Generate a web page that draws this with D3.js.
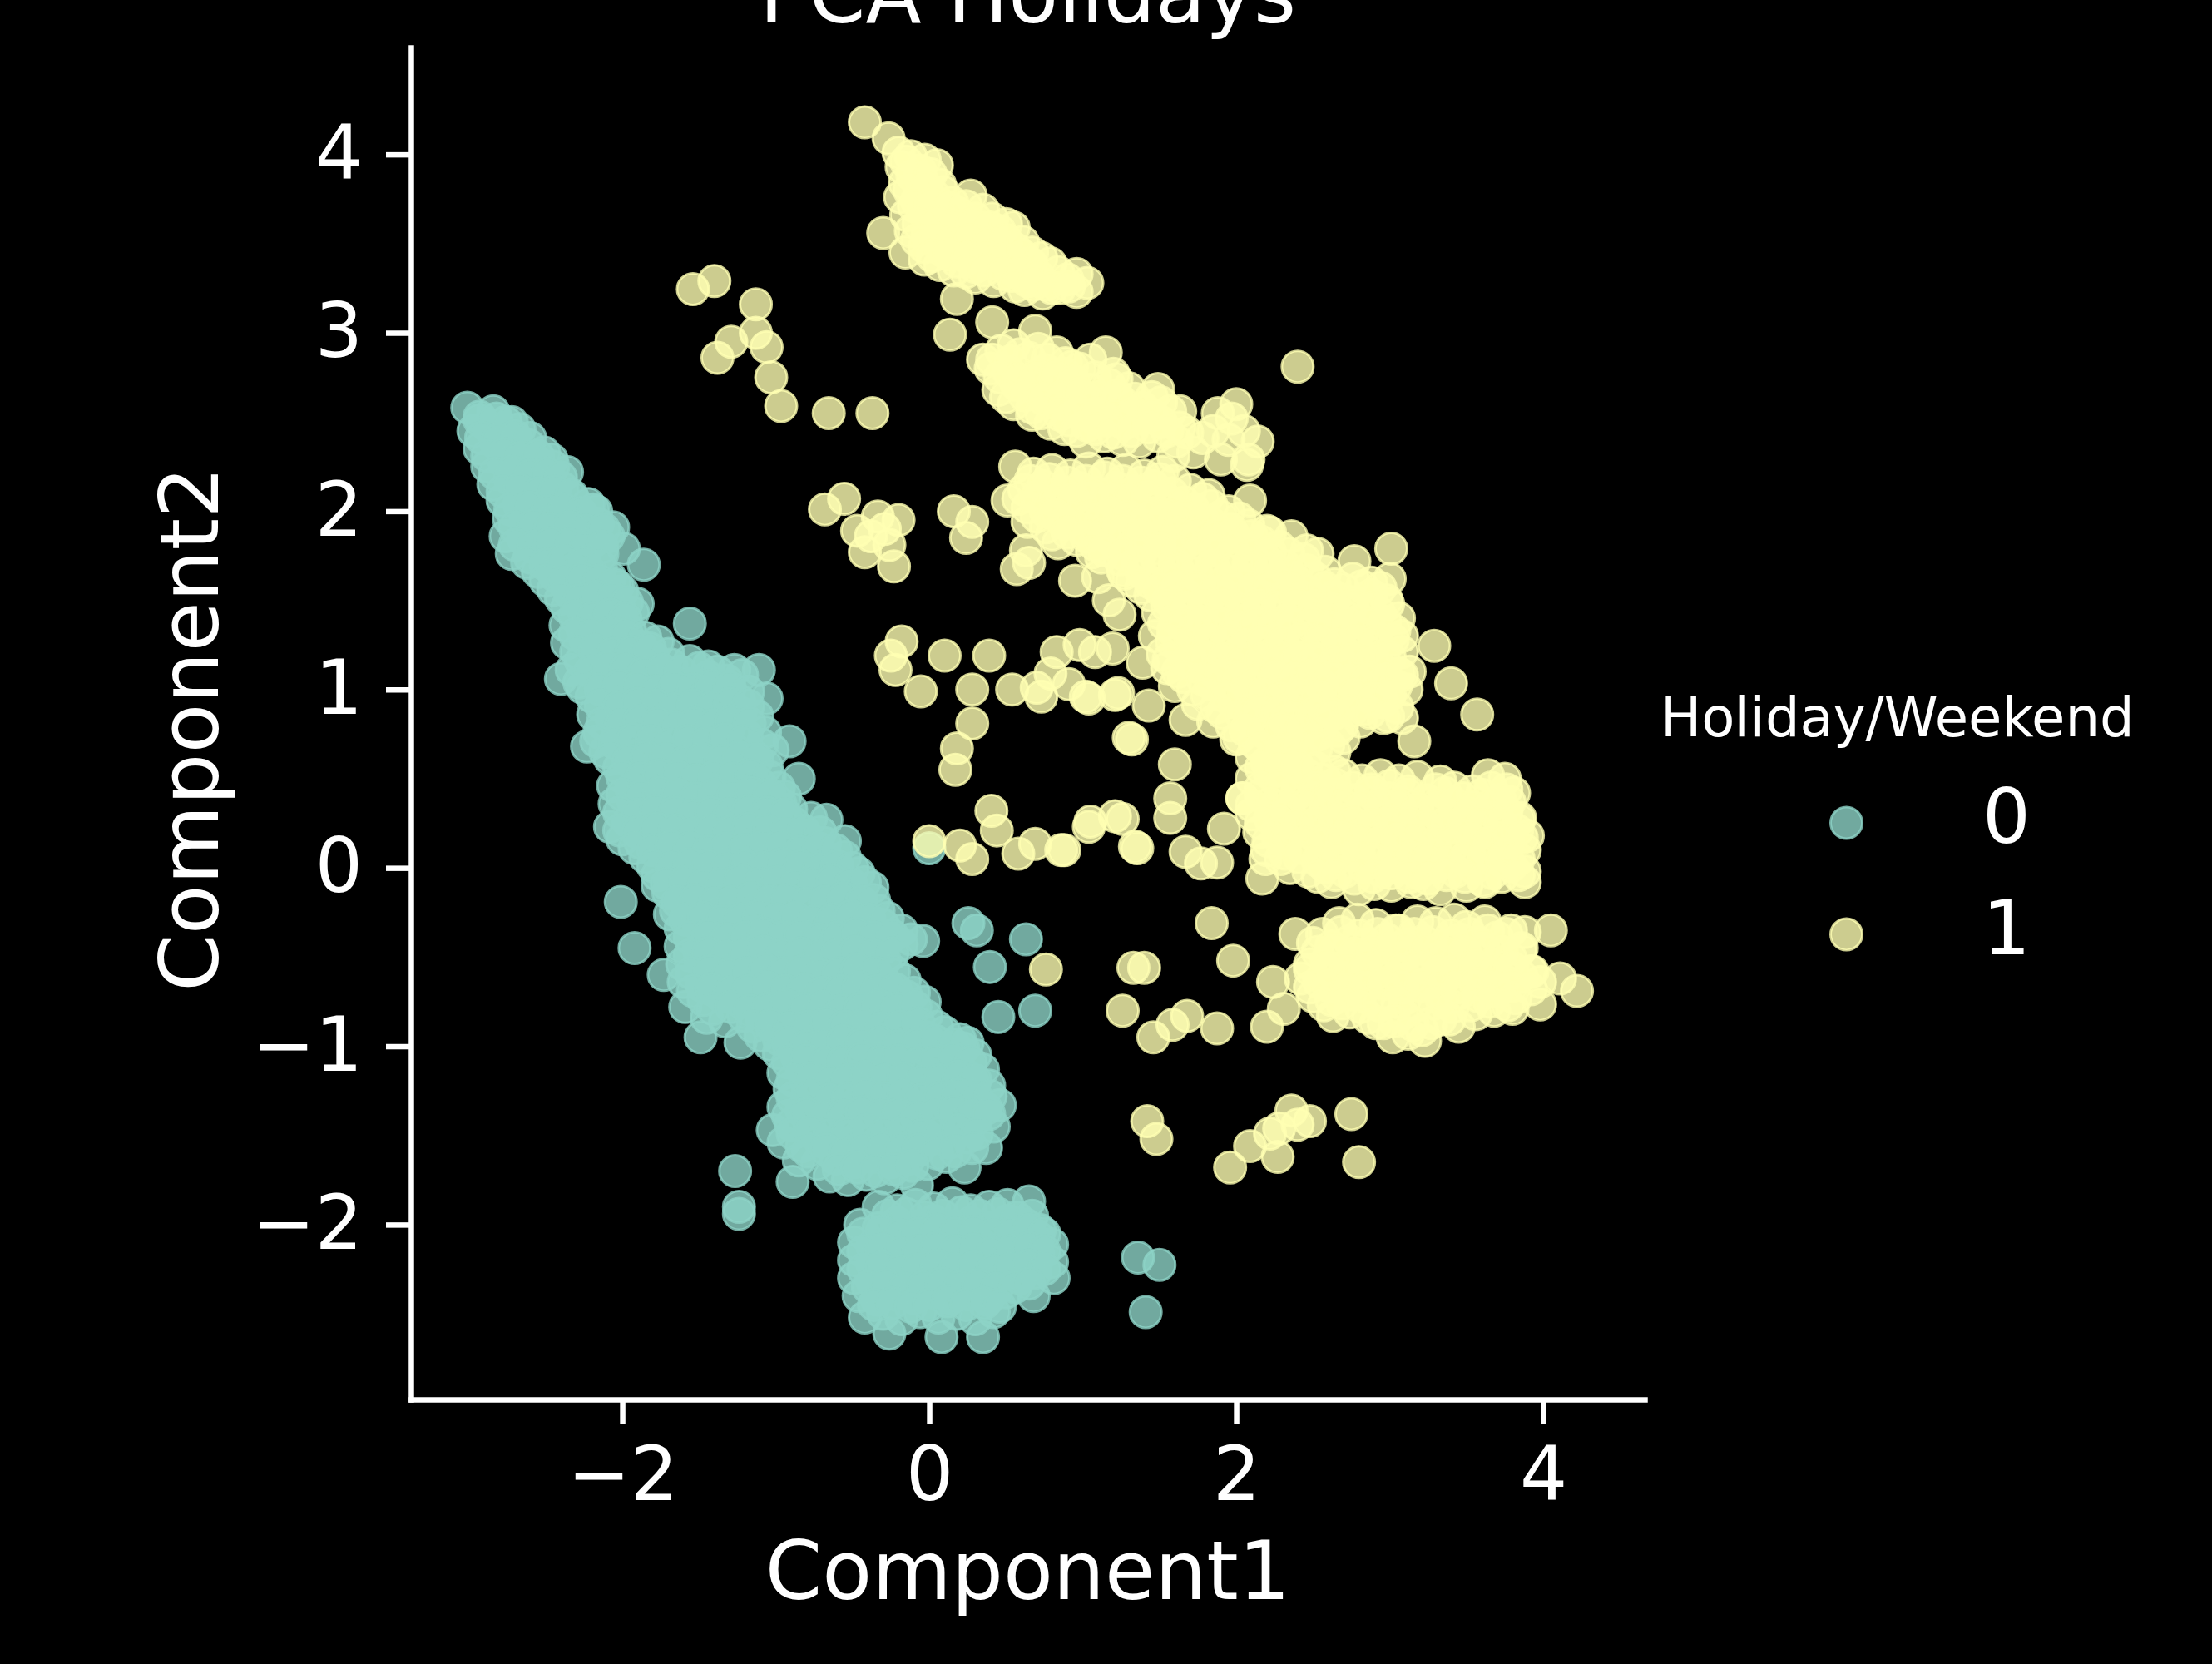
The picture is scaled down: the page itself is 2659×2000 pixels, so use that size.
<!DOCTYPE html>
<html>
<head>
<meta charset="utf-8">
<script src="https://cdn.jsdelivr.net/npm/d3@7"></script>
<style>
  html, body { margin: 0; padding: 0; background: #000; }
  svg { display: block; }
  text { font-family: "DejaVu Sans", sans-serif; fill: #fff; }
</style>
</head>
<body>
<svg id="chart" width="2659" height="2000"></svg>
<script>
// PCA scatter (Component1, Component2)
const categories = ["0", "1"]
const colors = ["#8dd3c7", "#ffffb3"]
const xTicks = [-2, 0, 2, 4]
const yTicks = [-2, -1, 0, 1, 2, 3, 4]

// Holiday/Weekend = 0 : edge and loose points
const holiday0 = [
  [-3.01,2.58],[-2.93,2.53],[-2.84,2.56],[-2.76,2.50],
  [-2.97,2.45],[-2.87,2.47],[-2.77,2.43],[-2.67,2.46],
  [-2.93,2.35],[-2.82,2.38],[-2.71,2.34],[-2.61,2.37],[-2.51,2.33],
  [-2.88,2.25],[-2.77,2.28],[-2.66,2.24],[-2.55,2.27],[-2.45,2.25],[-2.36,2.22],
  [-2.84,2.15],[-2.73,2.18],[-2.61,2.14],[-2.50,2.17],[-2.39,2.13],
  [-2.78,2.06],[-2.67,2.04],[-2.55,2.08],[-2.44,2.03],[-2.32,2.07],[-2.22,2.04],[-2.17,2.00],
  [-2.74,1.96],[-2.63,1.94],[-2.51,1.98],[-2.39,1.95],[-2.28,1.97],[-2.16,1.93],[-2.06,1.91],
  [-2.76,1.86],[-2.64,1.84],[-2.53,1.88],[-2.41,1.85],[-2.30,1.87],[-2.19,1.83],[-2.09,1.86],[-1.99,1.79],
  [-2.72,1.76],[-2.60,1.74],[-2.49,1.77],[-2.37,1.75],[-2.25,1.73],[-2.13,1.76],[-1.86,1.70],
  [-2.55,1.66],[-2.44,1.64],[-2.32,1.67],[-2.20,1.65],[-2.08,1.63],[-2.03,1.58],
  [-2.45,1.56],[-2.34,1.54],[-2.22,1.57],[-2.10,1.53],[-2.00,1.55],[-1.90,1.48],
  [-2.36,1.46],[-2.25,1.44],[-2.13,1.47],[-2.02,1.45],[-1.93,1.43],
  [-2.37,1.36],[-2.26,1.34],[-2.14,1.37],[-2.03,1.35],[-1.95,1.33],[-1.56,1.37],
  [-2.36,1.26],[-2.24,1.28],[-2.12,1.25],[-2.00,1.27],[-1.88,1.24],[-1.77,1.27],
  [-2.27,1.16],[-2.15,1.14],[-2.04,1.17],[-1.92,1.15],[-1.80,1.18],[-1.68,1.14],[-1.56,1.16],[-1.44,1.13],
  [-2.40,1.06],[-2.28,1.04],[-2.16,1.07],[-2.04,1.05],[-1.92,1.08],[-1.80,1.04],[-1.68,1.06],[-1.56,1.03],[-1.44,1.07],[-1.32,1.05],[-1.22,1.08],[-1.11,1.11],
  [-2.20,0.96],[-2.08,0.98],[-1.96,0.95],[-1.84,0.97],[-1.72,0.94],[-1.60,0.97],[-1.48,0.95],[-1.36,0.98],[-1.24,0.94],[-1.06,0.95],
  [-2.19,0.86],[-2.07,0.84],[-1.95,0.87],[-1.83,0.85],[-1.71,0.88],[-1.59,0.84],[-1.47,0.86],[-1.35,0.83],[-1.23,0.87],[-1.12,0.85],
  [-2.15,0.76],[-2.03,0.78],[-1.91,0.75],[-1.79,0.77],[-1.67,0.74],[-1.55,0.77],[-1.43,0.75],[-1.31,0.78],[-1.19,0.74],[-1.07,0.76],[-0.91,0.71],
  [-2.23,0.68],[-2.11,0.65],[-1.99,0.67],[-1.87,0.64],[-1.75,0.67],[-1.63,0.65],[-1.51,0.68],[-1.39,0.64],[-1.27,0.66],[-1.15,0.63],[-1.02,0.66],
  [-2.02,0.56],[-1.90,0.54],[-1.78,0.57],[-1.66,0.55],[-1.54,0.58],[-1.42,0.54],[-1.30,0.56],[-1.18,0.53],[-1.06,0.57],
  [-2.06,0.46],[-1.94,0.44],[-1.82,0.47],[-1.70,0.45],[-1.58,0.48],[-1.46,0.44],[-1.34,0.46],[-1.22,0.43],[-1.10,0.47],[-0.98,0.45],[-0.85,0.50],
  [-2.05,0.36],[-1.93,0.38],[-1.81,0.35],[-1.69,0.37],[-1.57,0.34],[-1.45,0.37],[-1.33,0.35],[-1.21,0.38],[-1.09,0.34],[-0.97,0.36],[-0.90,0.33],
  [-2.08,0.23],[-1.96,0.26],[-1.84,0.24],[-1.72,0.27],[-1.60,0.25],[-1.48,0.28],[-1.36,0.24],[-1.24,0.26],[-1.12,0.23],[-1.00,0.27],[-0.88,0.25],[-0.77,0.28],[-0.67,0.27],
  [-2.00,0.16],[-1.88,0.14],[-1.76,0.17],[-1.64,0.15],[-1.52,0.18],[-1.40,0.14],[-1.28,0.16],[-1.16,0.13],[-1.04,0.17],[-0.92,0.15],[-0.80,0.18],[-0.68,0.14],[-0.55,0.15],
  [-1.85,0.06],[-1.73,0.08],[-1.61,0.05],[-1.49,0.07],[-1.37,0.04],[-1.25,0.07],[-1.13,0.05],[-1.01,0.08],[-0.89,0.04],[-0.77,0.06],[-0.65,0.03],[-0.55,0.06],
  [-1.77,-0.04],[-1.65,-0.02],[-1.53,-0.05],[-1.41,-0.03],[-1.29,-0.06],[-1.17,-0.02],[-1.05,-0.04],[-0.93,-0.01],[-0.81,-0.05],[-0.69,-0.03],[-0.57,-0.06],[-0.46,-0.03],
  [-1.77,-0.10],[-1.70,-0.14],[-1.58,-0.12],[-1.46,-0.15],[-1.34,-0.13],[-1.22,-0.16],[-1.10,-0.12],[-0.98,-0.14],[-0.86,-0.11],[-0.74,-0.15],[-0.62,-0.13],[-0.50,-0.16],[-0.37,-0.11],[-2.01,-0.19],
  [-1.69,-0.26],[-1.65,-0.24],[-1.53,-0.22],[-1.41,-0.25],[-1.29,-0.23],[-1.17,-0.26],[-1.05,-0.22],[-0.93,-0.24],[-0.81,-0.21],[-0.69,-0.25],[-0.57,-0.23],[-0.45,-0.26],[-0.33,-0.24],
  [-1.62,-0.34],[-1.50,-0.32],[-1.38,-0.35],[-1.26,-0.33],[-1.14,-0.36],[-1.02,-0.32],[-0.90,-0.34],[-0.78,-0.31],[-0.66,-0.35],[-0.54,-0.33],[-0.42,-0.36],[-0.30,-0.32],[-0.18,-0.35],[-0.04,-0.41],
  [-1.62,-0.44],[-1.50,-0.46],[-1.38,-0.43],[-1.26,-0.45],[-1.14,-0.42],[-1.02,-0.45],[-0.90,-0.43],[-0.78,-0.46],[-0.66,-0.42],[-0.54,-0.44],[-0.42,-0.41],[-0.30,-0.45],[-0.18,-0.43],[-1.92,-0.45],
  [-1.61,-0.54],[-1.49,-0.52],[-1.37,-0.55],[-1.25,-0.53],[-1.13,-0.56],[-1.01,-0.52],[-0.89,-0.54],[-0.77,-0.51],[-0.65,-0.55],[-0.53,-0.53],[-0.41,-0.56],[-0.29,-0.52],[-1.73,-0.60],
  [-1.60,-0.64],[-1.48,-0.66],[-1.36,-0.63],[-1.24,-0.65],[-1.12,-0.62],[-1.00,-0.65],[-0.88,-0.63],[-0.76,-0.66],[-0.64,-0.62],[-0.52,-0.64],[-0.40,-0.61],[-0.28,-0.65],[-0.16,-0.63],
  [-1.59,-0.78],[-1.47,-0.74],[-1.35,-0.72],[-1.23,-0.75],[-1.11,-0.73],[-0.99,-0.76],[-0.87,-0.72],[-0.75,-0.74],[-0.63,-0.71],[-0.51,-0.75],[-0.39,-0.73],[-0.27,-0.76],[-0.15,-0.72],[-0.03,-0.75],
  [-1.45,-0.84],[-1.33,-0.86],[-1.21,-0.83],[-1.09,-0.85],[-0.97,-0.82],[-0.85,-0.85],[-0.73,-0.83],[-0.61,-0.86],[-0.49,-0.82],[-0.37,-0.84],[-0.25,-0.81],[-0.13,-0.85],[-0.02,-0.83],
  [-1.49,-0.95],[-1.23,-0.98],[-1.10,-0.94],[-0.98,-0.96],[-0.86,-0.93],[-0.74,-0.95],[-0.62,-0.92],[-0.50,-0.96],[-0.38,-0.94],[-0.26,-0.97],[-0.14,-0.93],[-0.02,-0.95],[0.10,-0.92],[0.20,-0.96],
  [-0.98,-1.04],[-0.86,-1.06],[-0.74,-1.03],[-0.62,-1.05],[-0.50,-1.02],[-0.38,-1.05],[-0.26,-1.03],[-0.14,-1.06],[-0.02,-1.02],[0.10,-1.04],[0.22,-1.01],[0.30,-1.05],
  [-0.95,-1.15],[-0.83,-1.13],[-0.71,-1.16],[-0.59,-1.14],[-0.47,-1.17],[-0.35,-1.13],[-0.23,-1.15],[-0.11,-1.12],[0.01,-1.16],[0.13,-1.14],[0.25,-1.17],[0.35,-1.13],
  [-0.91,-1.24],[-0.79,-1.26],[-0.67,-1.23],[-0.55,-1.25],[-0.43,-1.22],[-0.31,-1.25],[-0.19,-1.23],[-0.07,-1.26],[0.05,-1.22],[0.17,-1.24],[0.29,-1.21],[0.39,-1.22],
  [-0.95,-1.34],[-0.83,-1.36],[-0.71,-1.33],[-0.59,-1.35],[-0.47,-1.32],[-0.35,-1.35],[-0.23,-1.33],[-0.11,-1.36],[0.01,-1.32],[0.13,-1.34],[0.25,-1.31],[0.37,-1.35],[0.46,-1.33],
  [-1.02,-1.47],[-0.90,-1.44],[-0.78,-1.46],[-0.66,-1.43],[-0.54,-1.45],[-0.42,-1.42],[-0.30,-1.45],[-0.18,-1.43],[-0.06,-1.46],[0.06,-1.42],[0.18,-1.44],[0.30,-1.41],[0.42,-1.45],
  [-0.95,-1.54],[-0.83,-1.56],[-0.71,-1.53],[-0.59,-1.55],[-0.47,-1.52],[-0.35,-1.55],[-0.23,-1.53],[-0.11,-1.56],[0.01,-1.52],[0.13,-1.54],[0.25,-1.51],[0.37,-1.57],
  [-0.85,-1.64],[-0.73,-1.66],[-0.61,-1.63],[-0.49,-1.65],[-0.37,-1.62],[-0.25,-1.65],[-0.13,-1.63],[-0.01,-1.66],[0.11,-1.62],[0.23,-1.68],
  [-0.89,-1.76],[-0.65,-1.73],[-0.53,-1.75],[-0.41,-1.72],[-0.29,-1.74],[-0.17,-1.71],[-0.08,-1.78],
  [-1.265,-1.70],[-1.24,-1.90],[-1.24,-1.94],
  [-0.33,-1.90],[-0.21,-1.92],[-0.09,-1.89],[0.03,-1.91],[0.15,-1.88],[0.27,-1.92],[0.39,-1.90],[0.51,-1.89],[0.65,-1.87],
  [-0.45,-2.00],[-0.33,-2.02],[-0.21,-1.99],[-0.09,-2.01],[0.03,-1.98],[0.15,-2.01],[0.27,-1.99],[0.39,-2.02],[0.51,-1.98],[0.63,-2.00],[0.72,-2.03],
  [-0.49,-2.10],[-0.37,-2.12],[-0.25,-2.09],[-0.13,-2.11],[-0.01,-2.08],[0.11,-2.11],[0.23,-2.09],[0.35,-2.12],[0.47,-2.08],[0.59,-2.10],[0.71,-2.07],[0.80,-2.11],
  [-0.49,-2.20],[-0.37,-2.22],[-0.25,-2.19],[-0.13,-2.21],[-0.01,-2.18],[0.11,-2.21],[0.23,-2.19],[0.35,-2.22],[0.47,-2.18],[0.59,-2.20],[0.71,-2.17],[0.80,-2.21],
  [-0.49,-2.30],[-0.37,-2.32],[-0.25,-2.29],[-0.13,-2.31],[-0.01,-2.28],[0.11,-2.31],[0.23,-2.29],[0.35,-2.32],[0.47,-2.28],[0.59,-2.30],[0.69,-2.27],[0.81,-2.30],
  [-0.46,-2.40],[-0.34,-2.42],[-0.22,-2.39],[-0.10,-2.41],[0.02,-2.38],[0.14,-2.41],[0.26,-2.39],[0.38,-2.42],[0.50,-2.38],[0.68,-2.40],
  [-0.42,-2.52],[-0.30,-2.50],[-0.18,-2.53],[-0.06,-2.49],[0.06,-2.52],[0.18,-2.50],[0.30,-2.53],[0.42,-2.49],
  [-0.26,-2.61],[0.08,-2.63],[0.35,-2.63],
  [0.255,-0.31],[0.31,-0.35],[0.63,-0.40],[0.395,-0.555],[0.45,-0.835],[0.69,-0.80],[0.0,0.11],
  [1.36,-2.185],[1.50,-2.225],[1.41,-2.49]
]

// Holiday/Weekend = 0 : inside of the packed band
const holiday0Dense = [
  [-2.93,2.51],[-2.82,2.52],[-2.72,2.50],
  [-2.92,2.41],[-2.81,2.40],[-2.70,2.42],[-2.60,2.41],
  [-2.88,2.31],[-2.77,2.32],[-2.66,2.30],[-2.55,2.31],[-2.46,2.29],
  [-2.83,2.21],[-2.72,2.22],[-2.60,2.20],[-2.49,2.21],[-2.40,2.19],
  [-2.78,2.11],[-2.67,2.12],[-2.55,2.10],[-2.44,2.11],[-2.33,2.09],
  [-2.73,2.01],[-2.61,2.02],[-2.49,2.00],[-2.38,2.01],[-2.27,1.99],[-2.19,2.01],
  [-2.70,1.91],[-2.58,1.92],[-2.47,1.90],[-2.35,1.91],[-2.24,1.89],[-2.12,1.90],
  [-2.70,1.81],[-2.58,1.80],[-2.47,1.82],[-2.35,1.81],[-2.24,1.79],[-2.13,1.80],
  [-2.62,1.71],[-2.50,1.70],[-2.38,1.72],[-2.26,1.71],[-2.14,1.69],
  [-2.50,1.61],[-2.38,1.60],[-2.26,1.62],[-2.15,1.61],[-2.05,1.59],
  [-2.40,1.51],[-2.28,1.50],[-2.17,1.52],[-2.06,1.51],[-1.97,1.49],
  [-2.31,1.41],[-2.19,1.40],[-2.08,1.42],[-1.98,1.40],
  [-2.31,1.31],[-2.20,1.30],[-2.08,1.32],[-1.97,1.31],[-1.85,1.29],
  [-2.30,1.21],[-2.18,1.22],[-2.06,1.20],[-1.94,1.21],[-1.82,1.23],[-1.70,1.20],
  [-2.33,1.11],[-2.21,1.10],[-2.10,1.12],[-1.98,1.11],[-1.86,1.09],[-1.74,1.11],[-1.62,1.10],[-1.50,1.12],[-1.38,1.10],[-1.27,1.11],
  [-2.26,1.01],[-2.14,1.00],[-2.02,1.02],[-1.90,1.01],[-1.78,0.99],[-1.66,1.01],[-1.54,1.00],[-1.42,1.02],[-1.30,1.01],[-1.18,0.99],
  [-2.14,0.91],[-2.02,0.90],[-1.90,0.92],[-1.78,0.91],[-1.66,0.89],[-1.54,0.91],[-1.42,0.90],[-1.30,0.92],[-1.18,0.91],
  [-2.13,0.81],[-2.01,0.80],[-1.89,0.82],[-1.77,0.81],[-1.65,0.79],[-1.53,0.81],[-1.41,0.80],[-1.29,0.82],[-1.17,0.81],
  [-2.17,0.71],[-2.05,0.70],[-1.93,0.72],[-1.81,0.71],[-1.69,0.69],[-1.57,0.71],[-1.45,0.70],[-1.33,0.72],[-1.21,0.71],[-1.09,0.69],
  [-2.08,0.61],[-1.96,0.60],[-1.84,0.62],[-1.72,0.61],[-1.60,0.59],[-1.48,0.61],[-1.36,0.60],[-1.24,0.62],[-1.12,0.61],
  [-2.00,0.51],[-1.88,0.50],[-1.76,0.52],[-1.64,0.51],[-1.52,0.49],[-1.40,0.51],[-1.28,0.50],[-1.16,0.52],[-1.04,0.51],
  [-2.00,0.41],[-1.88,0.40],[-1.76,0.42],[-1.64,0.41],[-1.52,0.39],[-1.40,0.41],[-1.28,0.40],[-1.16,0.42],[-1.04,0.41],[-0.94,0.40],
  [-2.02,0.31],[-1.90,0.30],[-1.78,0.32],[-1.66,0.31],[-1.54,0.29],[-1.42,0.31],[-1.30,0.30],[-1.18,0.32],[-1.06,0.31],[-0.94,0.30],
  [-2.02,0.21],[-1.90,0.20],[-1.78,0.22],[-1.66,0.21],[-1.54,0.19],[-1.42,0.21],[-1.30,0.20],[-1.18,0.22],[-1.06,0.21],[-0.94,0.19],[-0.82,0.21],[-0.71,0.20],
  [-1.92,0.11],[-1.80,0.10],[-1.68,0.12],[-1.56,0.11],[-1.44,0.09],[-1.32,0.11],[-1.20,0.10],[-1.08,0.12],[-0.96,0.11],[-0.84,0.09],[-0.72,0.11],[-0.61,0.10],
  [-1.80,0.01],[-1.68,0.00],[-1.56,0.02],[-1.44,0.01],[-1.32,-0.01],[-1.20,0.01],[-1.08,0.00],[-0.96,0.02],[-0.84,0.01],[-0.72,-0.01],[-0.60,0.01],[-0.50,0.00],
  [-1.71,-0.09],[-1.59,-0.08],[-1.47,-0.10],[-1.35,-0.09],[-1.23,-0.07],[-1.11,-0.09],[-0.99,-0.08],[-0.87,-0.10],[-0.75,-0.09],[-0.63,-0.07],[-0.51,-0.09],[-0.42,-0.08],
  [-1.64,-0.19],[-1.52,-0.18],[-1.40,-0.20],[-1.28,-0.19],[-1.16,-0.17],[-1.04,-0.19],[-0.92,-0.18],[-0.80,-0.20],[-0.68,-0.19],[-0.56,-0.17],[-0.44,-0.19],[-0.36,-0.18],
  [-1.59,-0.29],[-1.47,-0.28],[-1.35,-0.30],[-1.23,-0.29],[-1.11,-0.27],[-0.99,-0.29],[-0.87,-0.28],[-0.75,-0.30],[-0.63,-0.29],[-0.51,-0.27],[-0.39,-0.29],[-0.27,-0.28],
  [-1.56,-0.39],[-1.44,-0.38],[-1.32,-0.40],[-1.20,-0.39],[-1.08,-0.37],[-0.96,-0.39],[-0.84,-0.38],[-0.72,-0.40],[-0.60,-0.39],[-0.48,-0.37],[-0.36,-0.39],[-0.24,-0.38],[-0.12,-0.40],
  [-1.56,-0.49],[-1.44,-0.48],[-1.32,-0.50],[-1.20,-0.49],[-1.08,-0.47],[-0.96,-0.49],[-0.84,-0.48],[-0.72,-0.50],[-0.60,-0.49],[-0.48,-0.47],[-0.36,-0.49],[-0.24,-0.48],
  [-1.55,-0.59],[-1.43,-0.58],[-1.31,-0.60],[-1.19,-0.59],[-1.07,-0.57],[-0.95,-0.59],[-0.83,-0.58],[-0.71,-0.60],[-0.59,-0.59],[-0.47,-0.57],[-0.35,-0.59],[-0.23,-0.58],
  [-1.54,-0.69],[-1.42,-0.68],[-1.30,-0.70],[-1.18,-0.69],[-1.06,-0.67],[-0.94,-0.69],[-0.82,-0.68],[-0.70,-0.70],[-0.58,-0.69],[-0.46,-0.67],[-0.34,-0.69],[-0.22,-0.68],[-0.10,-0.70],
  [-1.41,-0.79],[-1.29,-0.78],[-1.17,-0.80],[-1.05,-0.79],[-0.93,-0.77],[-0.81,-0.79],[-0.69,-0.78],[-0.57,-0.80],[-0.45,-0.79],[-0.33,-0.77],[-0.21,-0.79],[-0.09,-0.78],
  [-1.15,-0.89],[-1.03,-0.88],[-0.91,-0.90],[-0.79,-0.89],[-0.67,-0.87],[-0.55,-0.89],[-0.43,-0.88],[-0.31,-0.90],[-0.19,-0.89],[-0.07,-0.87],[0.05,-0.89],
  [-1.04,-0.99],[-0.92,-0.98],[-0.80,-1.00],[-0.68,-0.99],[-0.56,-0.97],[-0.44,-0.99],[-0.32,-0.98],[-0.20,-1.00],[-0.08,-0.99],[0.04,-0.97],[0.16,-0.99],[0.25,-0.98],
  [-0.92,-1.09],[-0.80,-1.08],[-0.68,-1.10],[-0.56,-1.09],[-0.44,-1.07],[-0.32,-1.09],[-0.20,-1.08],[-0.08,-1.10],[0.04,-1.09],[0.16,-1.07],[0.27,-1.09],
  [-0.89,-1.19],[-0.77,-1.18],[-0.65,-1.20],[-0.53,-1.19],[-0.41,-1.17],[-0.29,-1.19],[-0.17,-1.18],[-0.05,-1.20],[0.07,-1.19],[0.19,-1.17],[0.30,-1.19],
  [-0.89,-1.29],[-0.77,-1.28],[-0.65,-1.30],[-0.53,-1.29],[-0.41,-1.27],[-0.29,-1.29],[-0.17,-1.28],[-0.05,-1.30],[0.07,-1.29],[0.19,-1.27],[0.31,-1.29],[0.40,-1.28],
  [-0.92,-1.39],[-0.80,-1.38],[-0.68,-1.40],[-0.56,-1.39],[-0.44,-1.37],[-0.32,-1.39],[-0.20,-1.38],[-0.08,-1.40],[0.04,-1.39],[0.16,-1.37],[0.28,-1.39],[0.39,-1.38],
  [-0.89,-1.49],[-0.77,-1.48],[-0.65,-1.50],[-0.53,-1.49],[-0.41,-1.47],[-0.29,-1.49],[-0.17,-1.48],[-0.05,-1.50],[0.07,-1.49],[0.19,-1.47],[0.31,-1.49],
  [-0.79,-1.59],[-0.67,-1.58],[-0.55,-1.60],[-0.43,-1.59],[-0.31,-1.57],[-0.19,-1.59],[-0.07,-1.58],[0.05,-1.60],[0.17,-1.59],[0.28,-1.57],
  [-0.59,-1.69],[-0.47,-1.68],[-0.35,-1.70],[-0.23,-1.69],[-0.11,-1.67],
  [-0.27,-1.95],[-0.15,-1.94],[-0.03,-1.96],[0.09,-1.95],[0.21,-1.93],[0.33,-1.95],[0.45,-1.94],[0.57,-1.96],[0.67,-1.95],
  [-0.43,-2.05],[-0.31,-2.04],[-0.19,-2.06],[-0.07,-2.05],[0.05,-2.03],[0.17,-2.05],[0.29,-2.04],[0.41,-2.06],[0.53,-2.05],[0.65,-2.03],[0.75,-2.05],
  [-0.43,-2.15],[-0.31,-2.14],[-0.19,-2.16],[-0.07,-2.15],[0.05,-2.13],[0.17,-2.15],[0.29,-2.14],[0.41,-2.16],[0.53,-2.15],[0.65,-2.13],[0.75,-2.15],
  [-0.43,-2.25],[-0.31,-2.24],[-0.19,-2.26],[-0.07,-2.25],[0.05,-2.23],[0.17,-2.25],[0.29,-2.24],[0.41,-2.26],[0.53,-2.25],[0.65,-2.23],[0.75,-2.25],
  [-0.40,-2.35],[-0.28,-2.34],[-0.16,-2.36],[-0.04,-2.35],[0.08,-2.33],[0.20,-2.35],[0.32,-2.34],[0.44,-2.36],[0.56,-2.35],[0.65,-2.33],
  [-0.36,-2.45],[-0.24,-2.44],[-0.12,-2.46],[0.00,-2.45],[0.12,-2.43],[0.24,-2.45],[0.36,-2.44],[0.46,-2.46]
]

// Holiday/Weekend = 1 : edge and loose points
const holiday1 = [
  [-1.54,3.245],[-1.40,3.29],[-1.13,3.16],[-1.38,2.86],[-1.29,2.95],[-1.13,3.00],[-1.06,2.92],[-1.03,2.75],[-0.965,2.59],[-0.655,2.55],[-0.37,2.55],
  [-0.68,2.01],[-0.555,2.07],[-0.47,1.89],[-0.335,1.97],[-0.20,1.95],[-0.42,1.77],[-0.23,1.69],[-0.26,1.81],[-0.38,1.86],[-0.29,1.90],
  [0.16,2.00],[0.28,1.94],[0.24,1.85],[0.57,1.675],[0.65,1.71],
  [-0.42,4.18],[-0.265,4.09],[-0.20,4.01],[-0.12,3.99],
  [-0.18,3.93],[-0.06,3.91],[0.05,3.94],
  [-0.16,3.84],[-0.05,3.86],[0.07,3.83],
  [-0.19,3.76],[-0.08,3.74],[0.03,3.77],[0.15,3.73],[0.27,3.77],
  [-0.15,3.66],[-0.04,3.68],[0.07,3.65],[0.19,3.67],[0.30,3.64],[0.41,3.64],
  [-0.30,3.56],[-0.12,3.57],[-0.01,3.55],[0.11,3.58],[0.22,3.56],[0.34,3.59],[0.46,3.57],[0.55,3.59],
  [-0.155,3.45],[-0.03,3.48],[0.09,3.46],[0.20,3.49],[0.32,3.47],[0.44,3.50],[0.56,3.47],[0.67,3.45],
  [-0.03,3.41],[0.07,3.38],[0.18,3.40],[0.30,3.37],[0.42,3.39],[0.54,3.36],[0.66,3.39],[0.79,3.39],
  [0.16,3.35],[0.30,3.31],[0.42,3.29],[0.54,3.32],[0.64,3.29],[0.76,3.27],[0.90,3.30],[1.03,3.28],
  [0.18,3.19],[0.62,3.24],[0.74,3.22],[0.85,3.25],[0.96,3.23],
  [0.135,2.99],[0.41,3.06],[0.69,3.01],
  [0.35,2.85],[0.47,2.90],[0.59,2.88],[0.71,2.91],[0.83,2.89],[1.15,2.89],[0.55,2.93],
  [0.40,2.80],[0.52,2.78],[0.64,2.73],[0.76,2.79],[0.88,2.77],[0.98,2.80],[1.20,2.77],[0.93,2.81],
  [0.45,2.68],[0.57,2.71],[0.69,2.69],[0.81,2.72],[0.93,2.70],[1.05,2.68],[1.17,2.71],[1.30,2.69],[1.49,2.685],
  [0.55,2.60],[0.67,2.58],[0.79,2.61],[0.91,2.59],[1.03,2.62],[1.15,2.60],[1.27,2.60],[1.39,2.58],[1.51,2.61],[1.635,2.56],[2.00,2.60],
  [0.67,2.54],[0.79,2.49],[0.91,2.51],[1.03,2.48],[1.15,2.51],[1.27,2.49],[1.39,2.52],[1.51,2.50],[1.63,2.47],[1.97,2.52],[1.08,2.52],
  [0.88,2.46],[1.02,2.39],[1.14,2.42],[1.26,2.40],[1.37,2.39],[1.49,2.42],[1.61,2.39],[1.78,2.41],[2.14,2.39],
  [1.59,2.31],[1.90,2.29],[2.08,2.29],[1.72,2.33],[1.85,2.45],[1.95,2.40],[2.05,2.45],[1.88,2.55],
  [2.40,2.81],
  [0.56,2.25],[0.68,2.21],[0.80,2.23],[0.92,2.20],[1.04,2.24],[1.16,2.21],[1.28,2.23],[1.40,2.20],[1.52,2.22],[1.60,2.17],[2.07,2.26],
  [0.51,2.06],[0.62,2.12],[0.74,2.14],[0.86,2.11],[0.98,2.13],[1.10,2.10],[1.22,2.13],[1.34,2.11],[1.46,2.14],[1.58,2.10],[1.70,2.12],[1.82,2.09],
  [0.64,2.02],[0.76,2.00],[0.88,2.03],[1.00,2.01],[1.12,2.04],[1.24,2.00],[1.36,2.02],[1.48,1.99],[1.60,2.03],[1.72,2.01],[1.84,2.03],[1.95,2.00],[2.09,2.06],
  [0.64,1.94],[0.76,1.91],[0.88,1.93],[1.00,1.90],[1.12,1.94],[1.24,1.91],[1.36,1.93],[1.48,1.90],[1.60,1.94],[1.72,1.91],[1.84,1.93],[1.96,1.90],[2.08,1.92],[2.20,1.89],
  [0.63,1.78],[0.84,1.82],[0.96,1.84],[1.08,1.81],[1.20,1.83],[1.32,1.80],[1.44,1.84],[1.56,1.81],[1.68,1.83],[1.80,1.80],[1.92,1.84],[2.04,1.81],[2.16,1.83],[2.28,1.80],[2.36,1.86],
  [1.12,1.74],[1.24,1.73],[1.36,1.71],[1.48,1.74],[1.60,1.70],[1.72,1.72],[1.84,1.69],[1.96,1.73],[2.08,1.70],[2.20,1.72],[2.32,1.69],[2.44,1.73],[2.53,1.76],[2.77,1.72],[3.01,1.79],
  [0.95,1.61],[1.10,1.63],[1.27,1.65],[1.32,1.61],[1.44,1.60],[1.56,1.62],[1.68,1.59],[1.80,1.63],[1.92,1.60],[2.04,1.62],[2.16,1.59],[2.28,1.63],[2.40,1.60],[2.52,1.62],[2.64,1.59],[2.76,1.62],[2.88,1.60],[3.00,1.62],
  [1.17,1.50],[1.44,1.53],[1.56,1.50],[1.68,1.52],[1.80,1.49],[1.92,1.53],[2.04,1.50],[2.16,1.52],[2.28,1.49],[2.40,1.53],[2.52,1.50],[2.64,1.52],[2.76,1.49],[2.88,1.53],[2.98,1.50],
  [1.24,1.42],[1.49,1.43],[1.61,1.40],[1.73,1.42],[1.85,1.39],[1.97,1.43],[2.09,1.40],[2.21,1.42],[2.33,1.39],[2.45,1.43],[2.57,1.40],[2.69,1.42],[2.81,1.39],[2.93,1.43],[3.06,1.40],
  [0.98,1.25],[1.47,1.30],[1.59,1.33],[1.71,1.30],[1.83,1.32],[1.95,1.29],[2.07,1.33],[2.19,1.30],[2.31,1.32],[2.43,1.29],[2.55,1.33],[2.67,1.30],[2.79,1.32],[2.91,1.29],[3.03,1.33],[3.08,1.30],[3.29,1.245],
  [1.195,1.23],[1.39,1.15],[1.52,1.20],[1.64,1.23],[1.76,1.20],[1.88,1.22],[2.00,1.19],[2.12,1.23],[2.24,1.20],[2.36,1.22],[2.48,1.19],[2.60,1.23],[2.72,1.20],[2.84,1.22],[2.96,1.19],[3.08,1.21],
  [1.55,1.12],[1.62,1.10],[1.74,1.13],[1.86,1.10],[1.98,1.12],[2.10,1.09],[2.22,1.13],[2.34,1.10],[2.46,1.12],[2.58,1.09],[2.70,1.13],[2.82,1.10],[2.94,1.12],[3.06,1.09],[3.13,1.10],
  [1.60,1.02],[1.72,1.00],[1.84,1.03],[1.96,1.00],[2.08,1.02],[2.20,0.99],[2.32,1.03],[2.44,1.00],[2.56,1.02],[2.68,0.99],[2.80,1.03],[2.92,1.00],[3.04,1.02],[3.11,1.00],[3.40,1.035],
  [1.75,0.92],[1.87,0.90],[1.99,0.93],[2.11,0.90],[2.23,0.92],[2.35,0.89],[2.47,0.93],[2.59,0.90],[2.71,0.92],[2.83,0.89],[2.95,0.93],[3.05,0.90],
  [1.85,0.82],[1.97,0.80],[2.09,0.83],[2.21,0.80],[2.33,0.82],[2.45,0.79],[2.57,0.83],[2.69,0.80],[2.81,0.82],[2.96,0.84],[3.08,0.84],[3.57,0.86],
  [2.00,0.72],[2.12,0.70],[2.24,0.73],[2.36,0.70],[2.48,0.72],[2.60,0.69],[2.70,0.73],[3.16,0.71],
  [2.10,0.62],[2.22,0.60],[2.34,0.63],[2.46,0.60],
  [2.10,0.50],[2.22,0.53],[2.34,0.50],[2.46,0.52],[2.58,0.49],[2.70,0.52],[2.82,0.49],[2.94,0.52],[3.06,0.49],[3.18,0.51],[3.33,0.485],[3.64,0.52],[3.75,0.50],[2.02,0.73],[2.20,0.59],[2.38,0.58],
  [2.04,0.39],[2.16,0.41],[2.28,0.38],[2.40,0.42],[2.52,0.39],[2.64,0.41],[2.76,0.38],[2.88,0.42],[3.00,0.39],[3.12,0.41],[3.24,0.38],[3.36,0.42],[3.48,0.39],[3.60,0.41],[3.72,0.38],[3.81,0.42],
  [2.10,0.30],[2.22,0.28],[2.34,0.31],[2.46,0.28],[2.58,0.30],[2.70,0.27],[2.82,0.31],[2.94,0.28],[3.06,0.30],[3.18,0.27],[3.30,0.31],[3.42,0.28],[3.52,0.30],[3.64,0.28],[3.76,0.31],[3.85,0.28],
  [2.15,0.20],[2.27,0.18],[2.39,0.21],[2.51,0.18],[2.63,0.20],[2.75,0.17],[2.87,0.21],[2.99,0.18],[3.11,0.20],[3.23,0.17],[3.35,0.21],[3.47,0.18],[3.59,0.20],[3.71,0.17],[3.83,0.21],[3.90,0.18],
  [2.20,0.10],[2.32,0.08],[2.44,0.11],[2.56,0.08],[2.68,0.10],[2.80,0.07],[2.92,0.11],[3.04,0.08],[3.16,0.10],[3.28,0.07],[3.40,0.11],[3.52,0.08],[3.64,0.10],[3.76,0.07],[3.88,0.10],
  [2.35,0.00],[2.47,-0.02],[2.58,0.005],[2.71,-0.02],[2.83,0.01],[2.95,-0.02],[3.07,0.00],[3.19,-0.03],[3.31,0.01],[3.43,-0.02],[3.55,0.00],[3.67,-0.03],[3.79,0.01],[3.88,-0.02],
  [2.62,-0.08],[2.80,-0.12],[2.90,-0.09],[3.01,-0.10],[3.14,-0.08],[3.22,-0.09],[3.33,-0.12],[3.50,-0.10],[3.62,-0.08],[3.88,-0.08],
  [2.385,-0.37],[2.67,-0.31],[2.79,-0.29],[2.91,-0.32],[3.06,-0.35],[3.18,-0.30],[3.30,-0.31],[3.42,-0.29],[3.50,-0.33],[3.62,-0.30],[3.79,-0.35],[4.05,-0.35],
  [2.50,-0.42],[2.62,-0.44],[2.74,-0.41],[2.86,-0.43],[2.98,-0.40],[3.10,-0.43],[3.22,-0.41],[3.34,-0.44],[3.46,-0.40],[3.58,-0.42],[3.70,-0.39],[3.86,-0.45],
  [2.48,-0.54],[2.59,-0.52],[2.71,-0.55],[2.83,-0.51],[2.95,-0.53],[3.07,-0.50],[3.19,-0.54],[3.31,-0.51],[3.43,-0.53],[3.55,-0.50],[3.67,-0.54],[3.79,-0.51],[3.93,-0.58],[4.11,-0.62],
  [2.42,-0.62],[2.54,-0.64],[2.66,-0.61],[2.78,-0.63],[2.90,-0.60],[3.02,-0.63],[3.14,-0.61],[3.26,-0.64],[3.38,-0.60],[3.50,-0.62],[3.62,-0.59],[3.74,-0.63],[3.86,-0.61],[3.98,-0.64],[4.22,-0.69],
  [2.50,-0.72],[2.62,-0.74],[2.74,-0.71],[2.86,-0.73],[2.98,-0.70],[3.10,-0.73],[3.22,-0.71],[3.34,-0.74],[3.46,-0.70],[3.58,-0.72],[3.70,-0.69],[3.82,-0.73],[3.98,-0.765],
  [2.63,-0.83],[2.74,-0.81],[2.86,-0.84],[2.96,-0.87],[3.08,-0.82],[3.21,-0.91],[3.33,-0.85],[3.45,-0.89],[3.56,-0.82],[3.68,-0.80],[3.80,-0.79],
  [3.02,-0.95],[3.12,-0.93],[3.23,-0.97],
  [0.00,0.15],[0.20,0.125],[0.28,0.05],[0.44,0.21],[0.58,0.08],[0.69,0.135],[0.86,0.10],[1.04,0.23],
  [0.405,0.32],[0.17,0.55],[0.18,0.67],[0.28,0.81],[0.28,1.00],[-0.055,0.99],[-0.22,1.11],[-0.18,1.27],[-0.25,1.19],[0.10,1.19],[0.39,1.19],
  [0.54,1.00],[0.70,1.01],[0.79,1.09],[0.73,0.96],[0.83,1.21],[1.08,1.21],[1.02,0.96],[1.21,0.97],[1.30,0.73],[0.91,1.03],[1.04,0.95],[1.23,0.98],[1.43,0.91],[1.32,0.72],[1.60,0.58],[1.67,0.83],
  [1.05,0.26],[1.21,0.29],[1.34,0.12],[1.26,0.275],[1.355,0.11],[1.57,0.39],[1.57,0.28],[1.67,0.09],[1.77,0.025],[1.875,0.03],[1.92,0.22],[2.04,0.39],[2.19,0.05],[2.17,-0.06],[0.88,0.10],
  [1.84,-0.31],[1.98,-0.52],[1.33,-0.56],[1.40,-0.56],[1.26,-0.80],[1.68,-0.83],[1.585,-0.88],[1.875,-0.90],[1.46,-0.95],[2.20,-0.89],[2.24,-0.64],[2.31,-0.79],[0.76,-0.57],
  [1.42,-1.42],[1.48,-1.52],[1.96,-1.68],[2.09,-1.56],[2.22,-1.49],[2.28,-1.46],[2.36,-1.36],[2.40,-1.44],[2.48,-1.42],[2.27,-1.62],[2.75,-1.38],[2.80,-1.65]
]

// Holiday/Weekend = 1 : inside of the packed bands
const holiday1Dense = [
  [-0.15,3.96],[-0.03,3.97],
  [-0.11,3.88],[0.01,3.89],
  [-0.13,3.80],[-0.02,3.81],[0.09,3.79],
  [-0.10,3.71],[0.01,3.72],[0.13,3.70],[0.24,3.71],[0.35,3.69],
  [-0.07,3.61],[0.05,3.62],[0.16,3.60],[0.28,3.61],[0.40,3.59],[0.50,3.61],
  [-0.08,3.52],[0.04,3.53],[0.15,3.51],[0.27,3.52],[0.39,3.50],[0.50,3.52],[0.61,3.51],
  [0.02,3.43],[0.13,3.44],[0.25,3.42],[0.37,3.43],[0.49,3.41],[0.61,3.43],[0.73,3.42],
  [0.24,3.34],[0.36,3.35],[0.48,3.33],[0.60,3.34],[0.71,3.32],[0.84,3.34],[0.96,3.33],
  [0.56,3.26],[0.68,3.27],[0.80,3.25],[0.91,3.26],
  [0.41,2.85],[0.53,2.84],[0.65,2.86],[0.77,2.85],[0.89,2.83],[1.05,2.85],
  [0.46,2.75],[0.58,2.74],[0.70,2.76],[0.82,2.75],[0.94,2.73],[1.08,2.75],[1.22,2.74],
  [0.50,2.64],[0.62,2.65],[0.74,2.63],[0.86,2.64],[0.98,2.66],[1.10,2.64],[1.22,2.65],[1.34,2.63],[1.45,2.64],
  [0.73,2.55],[0.85,2.54],[0.97,2.56],[1.09,2.55],[1.21,2.53],[1.33,2.55],[1.45,2.54],[1.57,2.56],
  [0.96,2.45],[1.08,2.46],[1.20,2.44],[1.32,2.45],[1.43,2.47],[1.55,2.45],[1.68,2.44],
  [0.66,2.17],[0.78,2.18],[0.90,2.16],[1.02,2.17],[1.14,2.19],[1.26,2.17],[1.38,2.16],[1.50,2.18],
  [0.58,2.07],[0.70,2.08],[0.82,2.06],[0.94,2.07],[1.06,2.09],[1.18,2.07],[1.30,2.06],[1.42,2.08],[1.54,2.07],[1.66,2.05],[1.78,2.07],
  [0.70,1.97],[0.82,1.98],[0.94,1.96],[1.06,1.97],[1.18,1.99],[1.30,1.97],[1.42,1.96],[1.54,1.98],[1.66,1.97],[1.78,1.95],[1.90,1.97],[2.02,1.96],
  [0.80,1.87],[0.90,1.88],[1.02,1.86],[1.14,1.87],[1.26,1.89],[1.38,1.87],[1.50,1.86],[1.62,1.88],[1.74,1.87],[1.86,1.85],[1.98,1.87],[2.10,1.86],[2.22,1.88],
  [1.06,1.77],[1.14,1.78],[1.26,1.76],[1.38,1.77],[1.50,1.79],[1.62,1.77],[1.74,1.76],[1.86,1.78],[1.98,1.77],[2.10,1.75],[2.22,1.77],[2.34,1.76],[2.46,1.78],
  [1.26,1.67],[1.38,1.66],[1.50,1.68],[1.62,1.67],[1.74,1.65],[1.86,1.67],[1.98,1.66],[2.10,1.68],[2.22,1.67],[2.34,1.65],[2.46,1.67],[2.58,1.66],
  [1.38,1.57],[1.50,1.56],[1.62,1.58],[1.74,1.57],[1.86,1.55],[1.98,1.57],[2.10,1.56],[2.22,1.58],[2.34,1.57],[2.46,1.55],[2.58,1.57],[2.70,1.56],[2.82,1.58],[2.94,1.57],
  [1.55,1.47],[1.67,1.46],[1.79,1.48],[1.91,1.47],[2.03,1.45],[2.15,1.47],[2.27,1.46],[2.39,1.48],[2.51,1.47],[2.63,1.45],[2.75,1.47],[2.87,1.46],[2.99,1.48],
  [1.53,1.37],[1.65,1.36],[1.77,1.38],[1.89,1.37],[2.01,1.35],[2.13,1.37],[2.25,1.36],[2.37,1.38],[2.49,1.37],[2.61,1.35],[2.73,1.37],[2.85,1.36],[2.97,1.38],
  [1.58,1.27],[1.70,1.26],[1.82,1.28],[1.94,1.27],[2.06,1.25],[2.18,1.27],[2.30,1.26],[2.42,1.28],[2.54,1.27],[2.66,1.25],[2.78,1.27],[2.90,1.26],[3.02,1.28],
  [1.56,1.17],[1.68,1.16],[1.80,1.18],[1.92,1.17],[2.04,1.15],[2.16,1.17],[2.28,1.16],[2.40,1.18],[2.52,1.17],[2.64,1.15],[2.76,1.17],[2.88,1.16],[3.00,1.18],
  [1.66,1.07],[1.78,1.06],[1.90,1.08],[2.02,1.07],[2.14,1.05],[2.26,1.07],[2.38,1.06],[2.50,1.08],[2.62,1.07],[2.74,1.05],[2.86,1.07],[2.98,1.06],[3.08,1.08],
  [1.81,0.97],[1.93,0.96],[2.05,0.98],[2.17,0.97],[2.29,0.95],[2.41,0.97],[2.53,0.96],[2.65,0.98],[2.77,0.97],[2.89,0.95],[3.00,0.97],
  [1.91,0.87],[2.03,0.86],[2.15,0.88],[2.27,0.87],[2.39,0.85],[2.51,0.87],[2.63,0.86],[2.75,0.88],[2.87,0.87],[2.99,0.85],
  [2.06,0.77],[2.18,0.76],[2.30,0.78],[2.42,0.77],[2.54,0.75],[2.66,0.77],
  [2.16,0.67],[2.28,0.66],[2.40,0.68],[2.52,0.67],[2.64,0.65],
  [2.16,0.56],[2.28,0.55],[2.40,0.57],[2.52,0.56],[2.64,0.54],
  [2.16,0.45],[2.28,0.46],[2.40,0.44],[2.52,0.45],[2.64,0.47],[2.76,0.45],[2.88,0.44],[3.00,0.46],[3.12,0.43],[3.30,0.44],[3.42,0.45],[3.54,0.43],[3.66,0.45],[3.76,0.44],
  [2.10,0.35],[2.22,0.36],[2.34,0.34],[2.46,0.35],[2.58,0.37],[2.70,0.35],[2.82,0.34],[2.94,0.36],[3.06,0.35],[3.18,0.33],[3.30,0.35],[3.42,0.36],[3.54,0.34],[3.66,0.35],[3.78,0.37],
  [2.16,0.25],[2.28,0.26],[2.40,0.24],[2.52,0.25],[2.64,0.27],[2.76,0.25],[2.88,0.24],[3.00,0.26],[3.12,0.25],[3.24,0.23],[3.36,0.25],[3.48,0.26],[3.60,0.24],[3.72,0.25],[3.84,0.27],
  [2.21,0.15],[2.33,0.16],[2.45,0.14],[2.57,0.15],[2.69,0.17],[2.81,0.15],[2.93,0.14],[3.05,0.16],[3.17,0.15],[3.29,0.13],[3.41,0.15],[3.53,0.16],[3.65,0.14],[3.77,0.15],[3.86,0.17],
  [2.29,0.05],[2.41,0.06],[2.53,0.04],[2.65,0.05],[2.77,0.07],[2.89,0.05],[3.01,0.04],[3.13,0.06],[3.25,0.05],[3.37,0.03],[3.49,0.05],[3.61,0.06],[3.73,0.04],[3.84,0.05],
  [2.53,-0.05],[2.65,-0.04],[2.77,-0.06],[2.89,-0.05],[3.01,-0.03],[3.13,-0.05],[3.25,-0.06],[3.37,-0.04],[3.49,-0.05],[3.61,-0.07],[3.73,-0.05],[3.84,-0.04],
  [2.56,-0.37],[2.68,-0.36],[2.80,-0.38],[2.92,-0.37],[3.04,-0.35],[3.16,-0.37],[3.28,-0.36],[3.40,-0.38],[3.52,-0.37],[3.64,-0.35],[3.76,-0.37],[3.88,-0.36],
  [2.53,-0.47],[2.65,-0.46],[2.77,-0.48],[2.89,-0.47],[3.01,-0.45],[3.13,-0.47],[3.25,-0.46],[3.37,-0.48],[3.49,-0.47],[3.61,-0.45],[3.73,-0.47],[3.85,-0.46],
  [2.48,-0.57],[2.60,-0.56],[2.72,-0.58],[2.84,-0.57],[2.96,-0.55],[3.08,-0.57],[3.20,-0.56],[3.32,-0.58],[3.44,-0.57],[3.56,-0.55],[3.68,-0.57],[3.80,-0.56],[3.92,-0.58],
  [2.48,-0.67],[2.60,-0.66],[2.72,-0.68],[2.84,-0.67],[2.96,-0.65],[3.08,-0.67],[3.20,-0.66],[3.32,-0.68],[3.44,-0.67],[3.56,-0.65],[3.68,-0.67],[3.80,-0.66],[3.92,-0.68],
  [2.57,-0.77],[2.69,-0.76],[2.81,-0.78],[2.93,-0.77],[3.05,-0.75],[3.17,-0.77],[3.29,-0.76],[3.41,-0.78],[3.53,-0.77],[3.65,-0.75],[3.77,-0.77],
  [2.91,-0.87],[3.03,-0.86],[3.15,-0.88],[3.27,-0.87],[3.39,-0.85]
]

const series = [holiday0.concat(holiday0Dense), holiday1.concat(holiday1Dense)]

const margin = { top: 57, right: 682, bottom: 318, left: 494 },
      width = 2659 - margin.left - margin.right,
      height = 2000 - margin.top - margin.bottom

const svg = d3.select("#chart")

const getX = d3.scaleLinear()
  .domain([-3.377, 4.661])
  .range([margin.left, margin.left + width])

const getY = d3.scaleLinear()
  .domain([-2.98, 4.60])
  .range([margin.top + height, margin.top])

const styleAxis = (g) => {
  g.select(".domain").attr("stroke", "#fff").attr("stroke-width", 6.5).attr("stroke-linecap", "square")
  g.selectAll(".tick line").attr("stroke", "#fff").attr("stroke-width", 6.5)
  g.selectAll(".tick text")
    .attr("fill", "#fff")
    .style("font-family", "DejaVu Sans")
    .style("font-size", "90px")
}

// x axis
svg.append("g")
  .attr("transform", `translate(0, ${margin.top + height})`)
  .call(d3.axisBottom(getX).tickValues(xTicks).tickSize(30).tickSizeOuter(0).tickPadding(27))
  .call(styleAxis)

// y axis
svg.append("g")
  .attr("transform", `translate(${margin.left}, 0)`)
  .call(d3.axisLeft(getY).tickValues(yTicks).tickSize(30).tickSizeOuter(0).tickPadding(28))
  .call(styleAxis)

// points, class 0 first then class 1 on top
series.forEach((pts, i) => {
  svg.append("g")
    .selectAll("circle")
    .data(pts)
    .join("circle")
    .attr("cx", d => getX(d[0]))
    .attr("cy", d => getY(d[1]))
    .attr("r", 19)
    .attr("fill", colors[i])
    .attr("fill-opacity", 0.8)
    .attr("stroke", colors[i])
    .attr("stroke-opacity", 0.8)
    .attr("stroke-width", 3)
})

// title and axis labels
svg.append("text")
  .attr("x", margin.left + width / 2)
  .attr("y", 27)
  .attr("text-anchor", "middle")
  .style("font-size", "98px")
  .text("PCA Holidays")

svg.append("text")
  .attr("x", margin.left + width / 2)
  .attr("y", 1922)
  .attr("text-anchor", "middle")
  .style("font-size", "98px")
  .text("Component1")

svg.append("text")
  .attr("transform", "translate(262, 876) rotate(-90)")
  .attr("text-anchor", "middle")
  .style("font-size", "98px")
  .text("Component2")

// legend
const legend = svg.append("g")
legend.append("text")
  .attr("x", 1996)
  .attr("y", 885)
  .style("font-size", "65.6px")
  .text("Holiday/Weekend")

const legendY = d3.scalePoint().domain(categories).range([989, 1123])

categories.forEach((c, i) => {
  legend.append("circle")
    .attr("cx", 2219.5)
    .attr("cy", legendY(c))
    .attr("r", 19)
    .attr("fill", colors[i])
    .attr("fill-opacity", 0.8)
    .attr("stroke", colors[i])
    .attr("stroke-opacity", 0.8)
    .attr("stroke-width", 3)
  legend.append("text")
    .attr("x", 2383)
    .attr("y", legendY(c) + 24)
    .style("font-size", "91px")
    .text(c)
})
</script>
</body>
</html>
